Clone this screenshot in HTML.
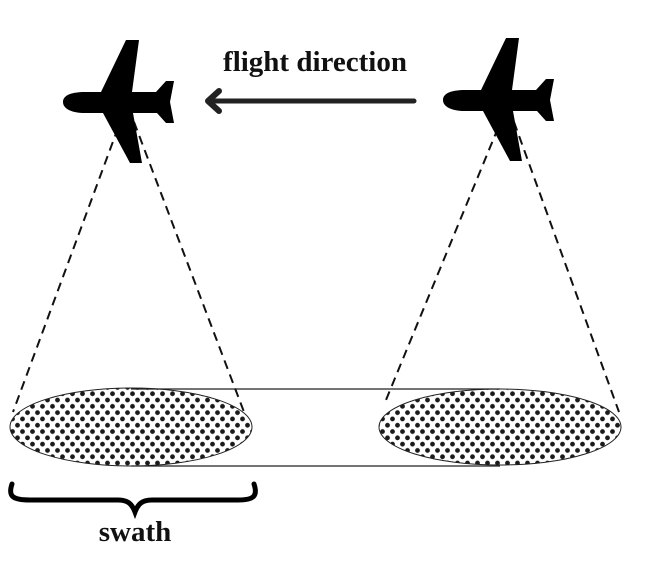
<!DOCTYPE html>
<html><head><meta charset="utf-8"><style>
html,body{margin:0;padding:0;background:#fff;width:647px;height:563px;overflow:hidden}
svg{display:block}
text{font-family:"Liberation Serif",serif;font-weight:bold;fill:#111}
</style></head><body>
<svg width="647" height="563" viewBox="0 0 647 563">
<defs>
<pattern id="dots" width="10" height="12.6" patternUnits="userSpaceOnUse">
<circle cx="2.5" cy="3.15" r="2.4" fill="#1a1a1a"/>
<circle cx="7.5" cy="9.45" r="2.4" fill="#1a1a1a"/>
</pattern>
<g id="plane">
<path d="M63,102 C63,95 72,92 85,92 L101,92 L126,40 L139,40 L132,92 L156,92 L166,81 L174,81 L170,102 L174,123 L166,123 L157,113 L133,113 L142,163 L130,163 L103,113 L85,113 C72,113 63,109 63,102 Z" fill="#000"/>
</g>
</defs>
<g>
<line x1="131" y1="389" x2="500" y2="389" stroke="#222" stroke-width="1.3"/>
<line x1="131" y1="466" x2="500" y2="466" stroke="#222" stroke-width="1.3"/>
</g>
<ellipse cx="131" cy="427" rx="121" ry="39" fill="url(#dots)" stroke="#222" stroke-width="1"/>
<ellipse cx="500" cy="427" rx="121" ry="38" fill="url(#dots)" stroke="#222" stroke-width="1"/>
<g stroke="#111" stroke-width="2" stroke-dasharray="9,6">
<line x1="118" y1="128" x2="13" y2="412"/>
<line x1="134" y1="122" x2="244" y2="412"/>
</g>
<g stroke="#111" stroke-width="2" stroke-dasharray="9,6">
<line x1="498" y1="128" x2="386" y2="400"/>
<line x1="514" y1="122" x2="619" y2="412"/>
</g>
<use href="#plane"/>
<use href="#plane" transform="translate(380,-2)"/>
<text x="315" y="71" font-size="29" text-anchor="middle">flight direction</text>
<g stroke="#222" fill="none" stroke-linecap="round" stroke-linejoin="round">
<line x1="210" y1="101" x2="414" y2="101" stroke-width="5"/>
<polyline points="219,91 208,101 219,111" stroke-width="6"/>
</g>
<path d="M12,484 C8,496 12,500 30,500 L118,500 C128,500 132,504 135,512 C138,504 142,500 152,500 L238,500 C254,500 258,496 254,484" fill="none" stroke="#000" stroke-width="5" stroke-linecap="round"/>
<text x="135" y="541" font-size="29" text-anchor="middle">swath</text>
</svg>
</body></html>
